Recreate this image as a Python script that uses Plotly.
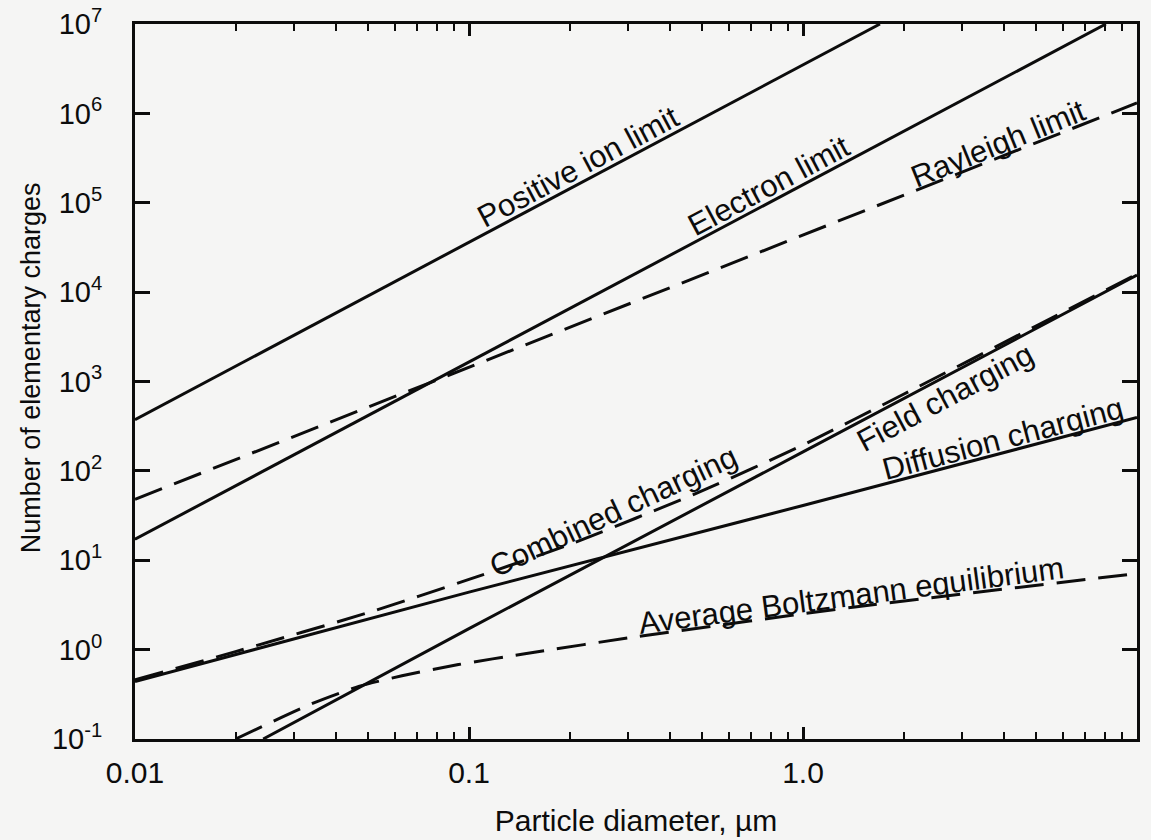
import numpy as np
import plotly.graph_objects as go

# ---------------- data ----------------
diam_pos_ion = [0.01, 1.70]
n_pos_ion = [374, 1.0e7]

diam_electron = [0.01, 8.07]
n_electron = [17.2, 1.0e7]

diam_rayleigh = [0.01, 10.0]
n_rayleigh = [48, 1.31e6]

diam_field = [0.0242, 0.1, 1.0, 10.0]
n_field = [0.1, 1.72, 163, 15500]

diam_diffusion = [0.01, 0.1, 1.0, 10.0]
n_diffusion = [0.44, 4.4, 41, 395]

diam_combined = [0.01, 0.02, 0.05, 0.1, 0.2, 0.5, 1.0, 2.0, 5.0, 10.0]
n_combined = [0.46, 0.95, 2.6, 6.1, 15, 60, 195, 720, 4200, 15900]

diam_boltzmann = [0.02, 0.034, 0.047, 0.063, 0.093, 0.147, 0.32, 1.43, 10.0]
n_boltzmann = [0.1, 0.25, 0.39, 0.51, 0.68, 0.9, 1.4, 3.0, 7.1]

x_tick_vals = [0.01, 0.1, 1.0, 10.0]
x_tick_text = ["0.01", "0.1", "1.0", "10"]
y_tick_vals = [1e-1, 1e0, 1e1, 1e2, 1e3, 1e4, 1e5, 1e6, 1e7]
y_tick_text = ["10<sup>-1</sup>", "10<sup>0</sup>", "10<sup>1</sup>", "10<sup>2</sup>",
               "10<sup>3</sup>", "10<sup>4</sup>", "10<sup>5</sup>", "10<sup>6</sup>",
               "10<sup>7</sup>"]

# ---------------- style ----------------
INK = "#0c0c0c"
BG = "#f5f5f4"
FONT = "Arial, 'Liberation Sans', Helvetica, sans-serif"
LW = 3
DASH = "29px,13px"

fig = go.Figure()

series = [
    ("Positive ion limit", diam_pos_ion, n_pos_ion, "solid", "linear"),
    ("Electron limit", diam_electron, n_electron, "solid", "linear"),
    ("Rayleigh limit", diam_rayleigh, n_rayleigh, DASH, "linear"),
    ("Field charging", diam_field, n_field, "solid", "linear"),
    ("Diffusion charging", diam_diffusion, n_diffusion, "solid", "linear"),
    ("Combined charging", diam_combined, n_combined, DASH, "spline"),
    ("Average Boltzmann equilibrium", diam_boltzmann, n_boltzmann, DASH, "spline"),
]
for name, xs, ys, dash, shape in series:
    fig.add_trace(go.Scatter(
        x=xs, y=ys, mode="lines", name=name,
        line=dict(color=INK, width=LW, dash=dash, shape=shape, smoothing=0.6),
        showlegend=False, hoverinfo="skip"))


def on_line(xs, ys, d):
    return float(np.interp(np.log10(d), np.log10(xs), np.log10(ys)))


# label: (text, xs, ys, diameter at label centre, angle, perpendicular shift px)
labels = [
    ("Positive ion limit", diam_pos_ion, n_pos_ion, 10 ** -0.65, -28, 15),
    ("Electron limit", diam_electron, n_electron, 10 ** -0.08, -28, 15),
    ("Rayleigh limit", diam_rayleigh, n_rayleigh, 10 ** 0.60, -22, 13),
    ("Combined charging", diam_combined, n_combined, 10 ** -0.55, -25, 14),
    ("Field charging", diam_field, n_field, 10 ** 0.40, -28, -19),
    ("Diffusion charging", diam_diffusion, n_diffusion, 10 ** 0.61, -14.7, 14),
    ("Average Boltzmann equilibrium", diam_boltzmann, n_boltzmann, 10 ** 0.15, -7.5, 12),
]
for text, xs, ys, d, ang, shift in labels:
    th = np.radians(-ang)
    fig.add_annotation(
        x=np.log10(d), y=on_line(xs, ys, d), xref="x", yref="y",
        text=text, showarrow=False, textangle=ang,
        xanchor="center", yanchor="middle",
        xshift=-shift * np.sin(th), yshift=shift * np.cos(th),
        font=dict(family=FONT, size=31, color=INK))

# y-axis title (placed as in the reference, slightly above the axis centre)
fig.add_annotation(
    x=-0.1035, y=0.519, xref="paper", yref="paper",
    text="Number of elementary charges", showarrow=False, textangle=-90,
    xanchor="center", yanchor="middle",
    font=dict(family=FONT, size=27, color=INK))

fig.update_xaxes(
    type="log", range=[-2, 1], automargin=False,
    tickmode="array", tickvals=x_tick_vals, ticktext=x_tick_text,
    ticks="inside", ticklen=12, tickwidth=2.5, tickcolor=INK,
    minor=dict(ticks="inside", ticklen=7, tickwidth=2.2, tickcolor=INK,
               dtick="D1", showgrid=False),
    showline=True, linewidth=3, linecolor=INK, mirror="allticks",
    showgrid=False, zeroline=False,
    tickfont=dict(family=FONT, size=30, color=INK),
    ticklabelstandoff=5,
    title=dict(text="Particle diameter, µm", standoff=22,
               font=dict(family=FONT, size=30, color=INK)),
)
fig.update_yaxes(
    type="log", range=[-1, 7], automargin=False,
    tickmode="array", tickvals=y_tick_vals, ticktext=y_tick_text,
    ticks="inside", ticklen=15, tickwidth=2.5, tickcolor=INK,
    showline=True, linewidth=3, linecolor=INK, mirror="allticks",
    showgrid=False, zeroline=False,
    tickfont=dict(family=FONT, size=29, color=INK),
    ticklabelstandoff=24,
)
fig.update_layout(
    width=1151, height=840,
    margin=dict(l=135, r=14, t=24, b=101, autoexpand=False),
    paper_bgcolor=BG, plot_bgcolor=BG,
    font=dict(family=FONT, color=INK),
)

fig.write_html("out.html")
